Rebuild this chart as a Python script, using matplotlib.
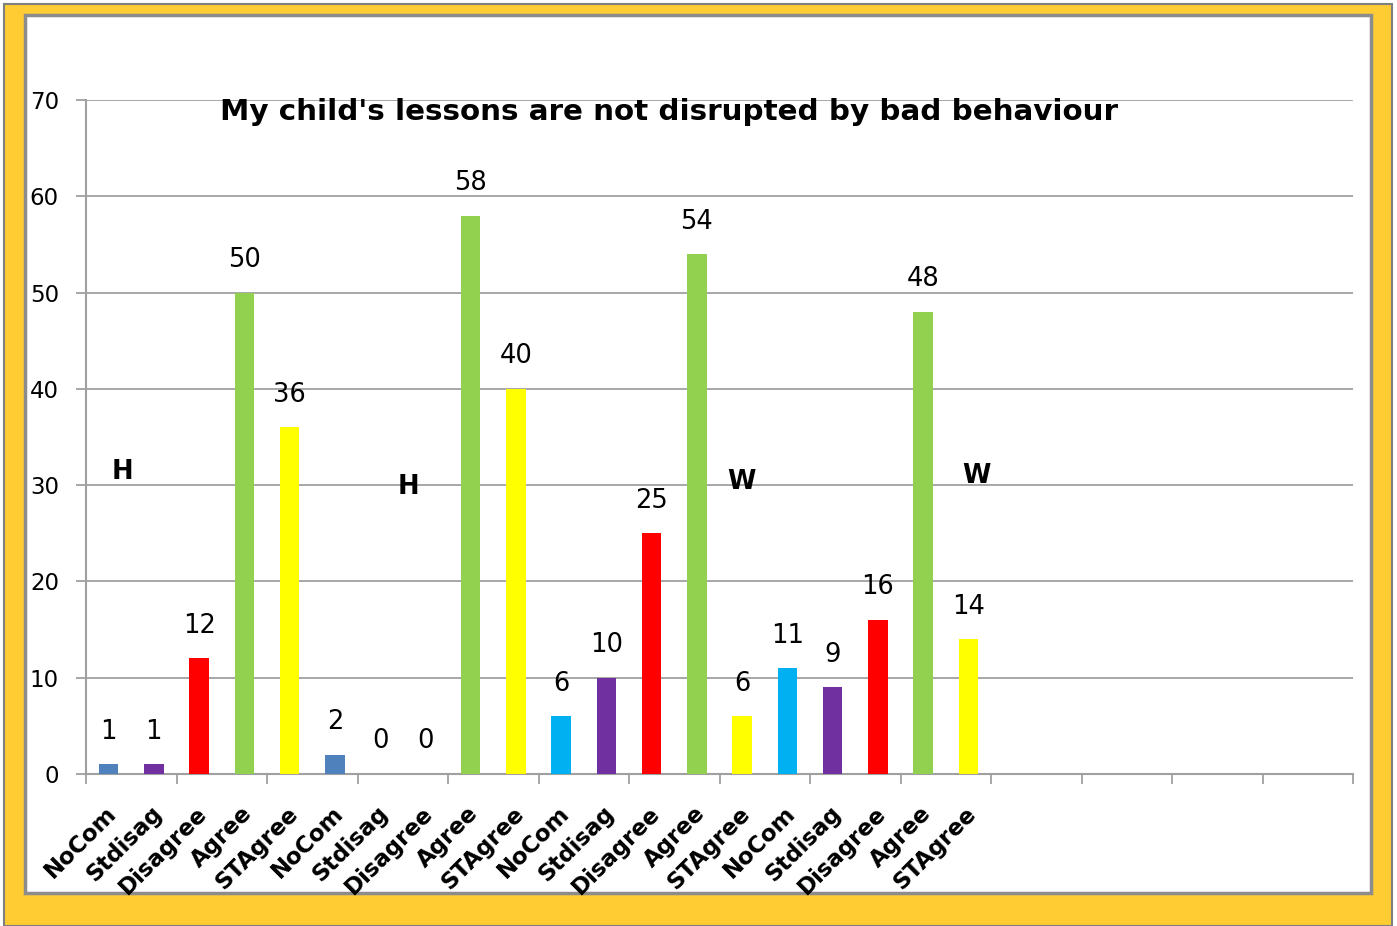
import matplotlib
matplotlib.use("Agg")
import matplotlib.pyplot as plt
import matplotlib.transforms as mtransforms
from matplotlib.patches import Rectangle

# ---- data ----
categories = ["NoCom", "Stdisag", "Disagree", "Agree", "STAgree",
              "NoCom", "Stdisag", "Disagree", "Agree", "STAgree",
              "NoCom", "Stdisag", "Disagree", "Agree", "STAgree",
              "NoCom", "Stdisag", "Disagree", "Agree", "STAgree"]
values = [1, 1, 12, 50, 36,
          2, 0, 0, 58, 40,
          6, 10, 25, 54, 6,
          11, 9, 16, 48, 14]
bar_colors = ["#4F81BD", "#7030A0", "#FF0000", "#92D050", "#FFFF00",
              "#4F81BD", "#7030A0", "#FF0000", "#92D050", "#FFFF00",
              "#00B0F0", "#7030A0", "#FF0000", "#92D050", "#FFFF00",
              "#00B0F0", "#7030A0", "#FF0000", "#92D050", "#FFFF00"]
total_slots = 28
y_ticks = [0, 10, 20, 30, 40, 50, 60, 70]
title = "My child's lessons are not disrupted by bad behaviour"
notes = ["H", "H", "W", "W"]
note_pos = [(0.30, 31.4), (6.63, 29.8), (13.98, 30.3), (19.17, 30.9)]

W, H = 1397, 926
fig = plt.figure(figsize=(W / 100, H / 100), dpi=100)
fig.patch.set_facecolor("white")

# frame
fig.patches.append(Rectangle((4 / W, 0), 1388 / W, 1 - 4 / H, transform=fig.transFigure,
                             facecolor="#FFCC33", edgecolor="#7F7F7F", lw=1.5, zorder=0))
fig.patches.append(Rectangle((25 / W, 1 - 893 / H), 1346 / W, 878 / H, transform=fig.transFigure,
                             facecolor="white", edgecolor="#8C8C8C", lw=2.5, zorder=1))

left, right, top, bottom = 86, 1353, 100, 774
ax = fig.add_axes([left / W, 1 - bottom / H, (right - left) / W, (bottom - top) / H])
ax.set_facecolor("none")
ax.set_zorder(2)

x = list(range(len(values)))
ax.bar(x, values, width=0.43, color=bar_colors, linewidth=0, zorder=3)

ax.set_xlim(-0.5, total_slots - 0.5)
ax.set_ylim(0, 70)

grid_c = "#A0A0A0"
ax.set_yticks(y_ticks)
ax.yaxis.grid(True, color=grid_c, lw=1.3, zorder=0)
ax.set_axisbelow(True)
for s in ["top", "right"]:
    ax.spines[s].set_visible(False)
for s in ["left", "bottom"]:
    ax.spines[s].set_color(grid_c)
    ax.spines[s].set_linewidth(1.5)
ax.tick_params(axis="y", length=7.5, width=1.3, color=grid_c, pad=12,
               labelsize=16.5, labelcolor="black")
for lab in ax.get_yticklabels():
    lab.set_fontfamily("DejaVu Sans")

# x major ticks every two slots, at boundaries, no labels
ax.set_xticks([i - 0.5 for i in range(0, total_slots + 1, 2)])
ax.set_xticklabels([])
ax.tick_params(axis="x", length=7.5, width=1.3, color=grid_c, direction="out")

# category labels
trans = mtransforms.blended_transform_factory(ax.transData, ax.transAxes)
for i, c in enumerate(categories):
    ax.text(i + 0.1, -36 / (bottom - top), c, transform=trans, rotation=45,
            rotation_mode="anchor", ha="right", va="center",
            fontsize=16.5, fontweight="bold", family="DejaVu Sans")

# value labels
for i, v in enumerate(values):
    ax.annotate(str(v), (i, v), xytext=(0, 23.4), textcoords="offset points",
                ha="center", va="center", fontsize=18.5,
                family="DejaVu Sans", zorder=5)

# H / W notes
for t, (px, py) in zip(notes, note_pos):
    ax.text(px, py, t, ha="center", va="center", fontsize=18.5, fontweight="bold",
            family="DejaVu Sans", zorder=5)

fig.text(669 / W, 1 - 112 / H, title, ha="center", va="center",
         fontsize=21.2, fontweight="bold", family="DejaVu Sans", zorder=5)

fig.savefig("out.png", dpi=100)
